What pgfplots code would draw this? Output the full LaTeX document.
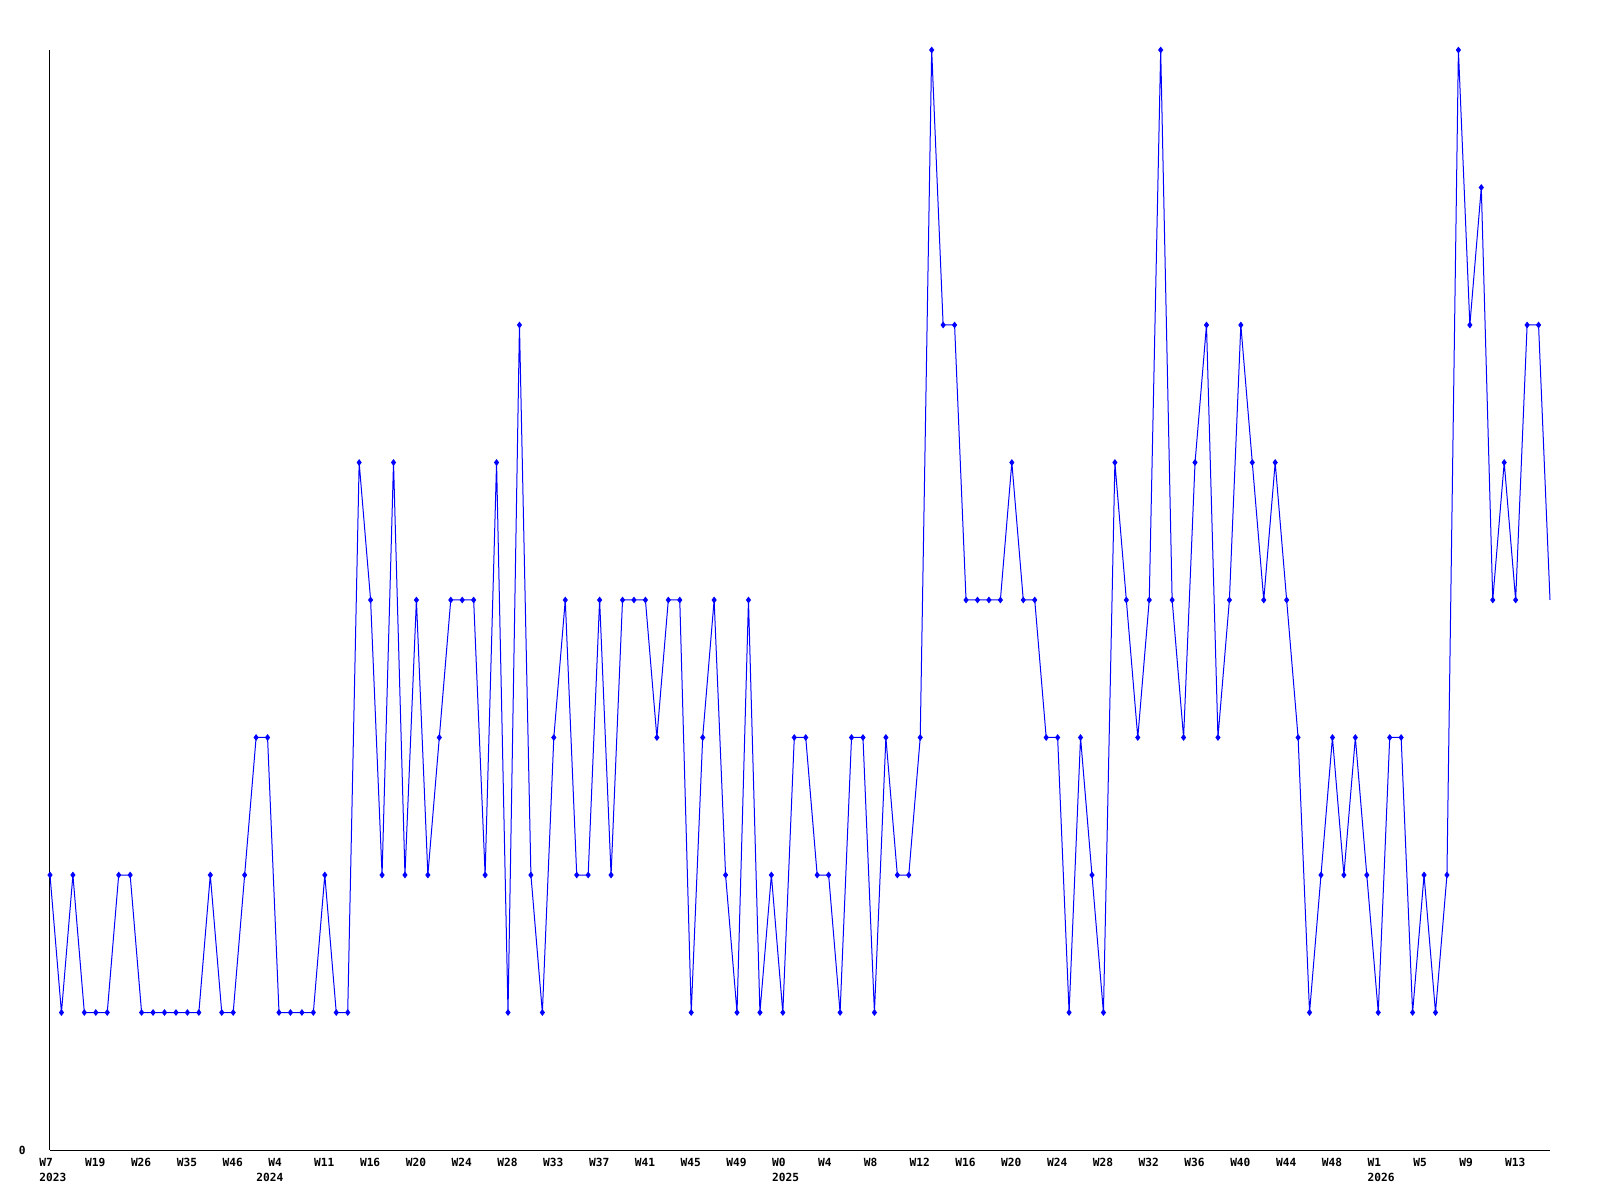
\documentclass[border=0pt]{standalone}
\usepackage{fontspec}
\setmonofont{DejaVu Sans Mono}
\usepackage{pgfplots}
\pgfplotsset{compat=1.18}
\definecolor{lineblue}{RGB}{0,0,255}
% weekly counts, index 0..131
\pgfplotstableread{
x y
0 2
1 1
2 2
3 1
4 1
5 1
6 2
7 2
8 1
9 1
10 1
11 1
12 1
13 1
14 2
15 1
16 1
17 2
18 3
19 3
20 1
21 1
22 1
23 1
24 2
25 1
26 1
27 5
28 4
29 2
30 5
31 2
32 4
33 2
34 3
35 4
36 4
37 4
38 2
39 5
40 1
41 6
42 2
43 1
44 3
45 4
46 2
47 2
48 4
49 2
50 4
51 4
52 4
53 3
54 4
55 4
56 1
57 3
58 4
59 2
60 1
61 4
62 1
63 2
64 1
65 3
66 3
67 2
68 2
69 1
70 3
71 3
72 1
73 3
74 2
75 2
76 3
77 8
78 6
79 6
80 4
81 4
82 4
83 4
84 5
85 4
86 4
87 3
88 3
89 1
90 3
91 2
92 1
93 5
94 4
95 3
96 4
97 8
98 4
99 3
100 5
101 6
102 3
103 4
104 6
105 5
106 4
107 5
108 4
109 3
110 1
111 2
112 3
113 2
114 3
115 2
116 1
117 3
118 3
119 1
120 2
121 1
122 2
123 8
124 6
125 7
126 4
127 5
128 4
129 6
130 6
131 4
}\weekly
\begin{document}
\begin{tikzpicture}
\path[use as bounding box] (0pt,0pt) rectangle (800pt,600pt);
\begin{axis}[
  at={(25pt,25pt)}, anchor=south west,
  scale only axis, width=750pt, height=550pt,
  xmin=0, xmax=131, ymin=0, ymax=8,
  axis x line=bottom, axis y line=left,
  axis line style={-, draw=black, line width=0.5pt},
  major tick length=0pt,
  ytick={0}, yticklabels={0},
  xtick={0,4,...,128},
  xticklabels={{W7\\2023},W19,W26,W35,W46,{W4\\\hspace*{-6pt}2024},W11,W16,W20,W24,W28,W33,W37,W41,W45,W49,{W0\\2025},W4,W8,W12,W16,W20,W24,W28,W32,W36,W40,W44,W48,{W1\\2026},W5,W9,W13},
  tick label style={font=\fontsize{5.6}{7.5}\selectfont\ttfamily\bfseries},
  xticklabel style={align=left, anchor=north west, inner sep=0pt, xshift=-5.5pt, yshift=-4pt},
  yticklabel style={anchor=east, inner sep=0pt, xshift=-12pt},
  /pgf/number format/assume math mode=true,
  clip=false,
]
\addplot[lineblue, line width=0.5pt, mark=diamond*, mark size=1.3pt,
  mark indices={1,...,131}, mark options={solid, fill=lineblue}]
  table[x=x, y=y] {\weekly};
\end{axis}
\end{tikzpicture}
\end{document}
